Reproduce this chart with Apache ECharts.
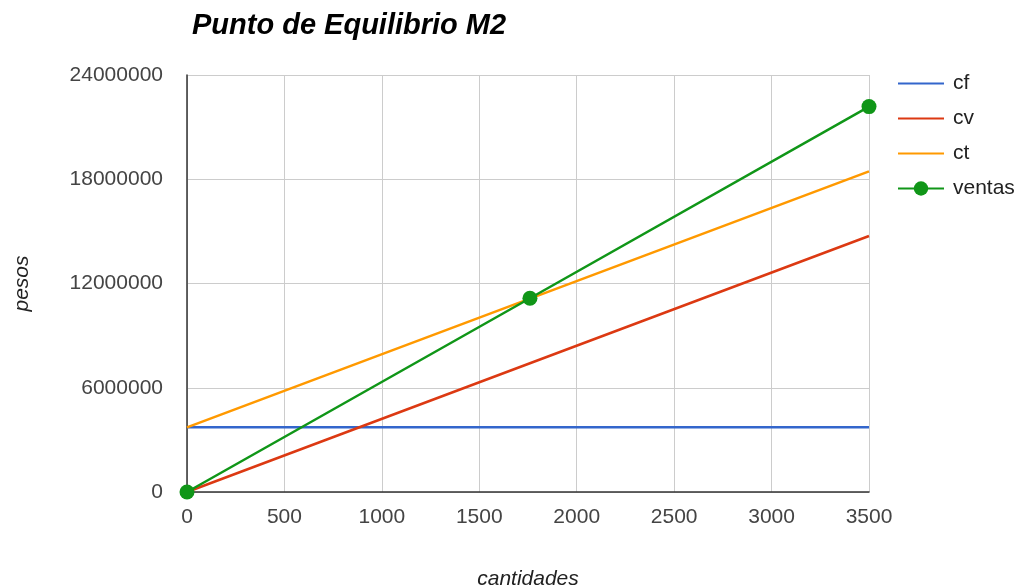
<!DOCTYPE html>
<html>
<head>
<meta charset="utf-8">
<script src="https://cdn.jsdelivr.net/npm/echarts@6/dist/echarts.min.js"></script>
<style>
  html, body { margin: 0; padding: 0; background: #fff; }
  #chart { width: 1016px; height: 588px; }
</style>
</head>
<body>
<div id="chart"></div>
<script>
// Break-even chart: fixed cost, variable cost, total cost and sales vs quantity
const cantidades = [0, 1760, 3500];
const cf = [3720000, 3720000, 3720000];
const cv = [0, 7410000, 14735000];
const ct = [3720000, 11130000, 18455000];
const ventas = [0, 11150000, 22180000];

const xTicks = [0, 500, 1000, 1500, 2000, 2500, 3000, 3500];
const yTicks = [0, 6000000, 12000000, 18000000, 24000000];

const FONT = '"Liberation Sans", Arial, sans-serif';

function pairs(ys) {
  return cantidades.map((x, i) => [x, ys[i]]);
}

const chart = echarts.init(document.getElementById('chart'), null, { renderer: 'canvas' });

function lineSeries(name, data, color, withMarker) {
  return {
    name: name,
    type: 'line',
    data: pairs(data),
    showSymbol: !!withMarker,
    symbol: withMarker ? 'circle' : 'none',
    symbolSize: 15,
    lineStyle: { width: 2.5, color: color },
    itemStyle: { color: color },
    emphasis: { disabled: true },
    animation: false
  };
}

// plain line legend entries hide the marker, only "ventas" keeps its dot
function legendLine(name) {
  return { name: name, itemStyle: { opacity: 0 } };
}

chart.setOption({
  animation: false,
  title: {
    text: 'Punto de Equilibrio M2',
    left: 187,
    top: 6,
    textStyle: {
      fontFamily: FONT,
      fontSize: 29,
      fontWeight: 'bold',
      fontStyle: 'italic',
      color: '#000'
    }
  },
  legend: {
    orient: 'vertical',
    left: 892,
    top: 68,
    itemWidth: 46,
    itemHeight: 18,
    itemGap: 14,
    textStyle: { fontFamily: FONT, fontSize: 21, color: '#222', padding: [0, 0, 0, 4] },
    data: [legendLine('cf'), legendLine('cv'), legendLine('ct'), { name: 'ventas' }]
  },
  grid: {
    left: 187, right: 147, top: 75, bottom: 96,
    containLabel: false,
    outerBoundsMode: 'none'
  },
  xAxis: {
    type: 'value',
    min: xTicks[0],
    max: xTicks[xTicks.length - 1],
    interval: 500,
    name: 'cantidades',
    nameLocation: 'middle',
    nameGap: 77,
    nameTextStyle: { fontFamily: FONT, fontSize: 21, fontStyle: 'italic', color: '#222' },
    axisLine: { show: true, lineStyle: { color: '#333', width: 1.5 } },
    axisTick: { show: false },
    axisLabel: {
      fontFamily: FONT, fontSize: 21, color: '#444', margin: 15,
      formatter: v => String(v)
    },
    splitLine: { show: true, lineStyle: { color: '#cccccc', width: 1 } }
  },
  yAxis: {
    type: 'value',
    min: yTicks[0],
    max: yTicks[yTicks.length - 1],
    interval: 6000000,
    name: 'pesos',
    nameLocation: 'middle',
    nameGap: 154,
    nameTextStyle: { fontFamily: FONT, fontSize: 21, fontStyle: 'italic', color: '#222' },
    axisLine: { show: true, lineStyle: { color: '#333', width: 1.5 } },
    axisTick: { show: false },
    axisLabel: {
      fontFamily: FONT, fontSize: 21, color: '#444', margin: 24,
      formatter: v => String(v)
    },
    splitLine: { show: true, lineStyle: { color: '#cccccc', width: 1 } }
  },
  series: [
    lineSeries('cf', cf, '#3366cc', false),
    lineSeries('cv', cv, '#dc3912', false),
    lineSeries('ct', ct, '#ff9900', false),
    lineSeries('ventas', ventas, '#109618', true)
  ]
});
</script>
</body>
</html>
